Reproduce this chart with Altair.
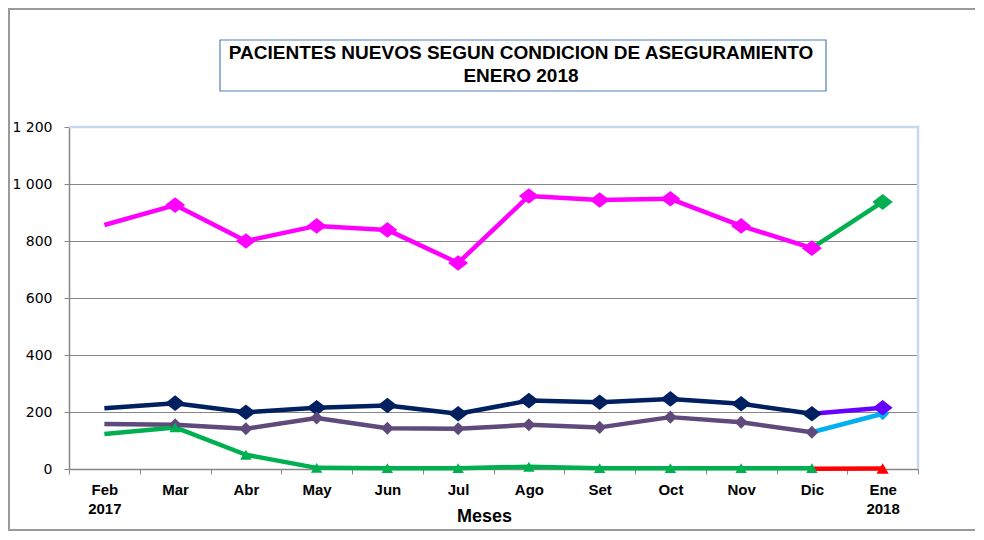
import altair as alt
import pandas as pd

months = ["Feb\n2017", "Mar", "Abr", "May", "Jun", "Jul", "Ago", "Set", "Oct", "Nov", "Dic", "Ene\n2018"]

magenta = [856, 926, 800, 853, 839, 723, 958, 944, 948, 853, 775]
navy = [213, 231, 199, 215, 223, 194, 240, 234, 246, 229, 194]
purple = [158, 155, 141, 179, 143, 141, 155, 146, 182, 164, 129]
green = [123, 146, 50, 4, 3, 3, 8, 3, 3, 3, 3]

# Dic -> Ene continuations
green_ene = [775, 937]
violet_ene = [194, 215]
cyan_ene = [129, 194]
red_ene = [1, 2]

DIAM = "M-1,0L0,-0.78L1,0L0,0.78Z"
TRI = "triangle-up"

series = [
    ("magenta", magenta, 0, "#FF00FF", DIAM, 400),
    ("navy", navy, 0, "#002060", DIAM, 400),
    ("purple", purple, 0, "#604A7B", "diamond", 170),
    ("green", green, 0, "#00B050", TRI, 130),
    ("green_ene", green_ene, 10, "#00B050", DIAM, 420),
    ("cyan_ene", cyan_ene, 10, "#00B0F0", "diamond", 170),
    ("violet_ene", violet_ene, 10, "#6600FF", DIAM, 400),
    ("red_ene", red_ene, 10, "#FF0000", TRI, 150),
]

rows = []
for name, vals, start, color, shape, size in series:
    for j, v in enumerate(vals):
        rows.append({
            "seg": name, "idx": start + j, "month": months[start + j],
            "value": v, "color": color, "shape": shape, "size": size,
            "marker": j > 0,
        })
df = pd.DataFrame(rows)

W, H = 849, 342
FONT = "Liberation Sans"

xenc = alt.X(
    "month:N", sort=months,
    scale=alt.Scale(type="band", paddingInner=0, paddingOuter=0),
    axis=alt.Axis(
        title="Meses", labelExpr="datum.value ? split(datum.value, '\\n') : ''", labelAngle=0,
        tickBand="extent", tickSize=5, tickColor="#868686", domainColor="#868686",
        domainWidth=1.5, labelFont=FONT, labelFontWeight="bold", labelFontSize=15,
        labelColor="#000000", labelPadding=8, labelLineHeight=19,
        titleFont=FONT, titleFontSize=18, titleFontWeight="bold", titleColor="#000000",
        titleX=415, titleY=47, titleBaseline="middle", grid=False,
    ),
)
yenc = alt.Y(
    "value:Q",
    scale=alt.Scale(domain=[0, 1200], nice=False),
    axis=alt.Axis(
        title=None, values=[0, 200, 400, 600, 800, 1000, 1200],
        labelExpr="replace(format(datum.value, ','), ',', ' ')",
        tickSize=5, tickColor="#868686", domainColor="#868686", domainWidth=1.5,
        gridColor="#868686", gridWidth=1, labelFont="DejaVu Sans", labelFontSize=14,
        labelColor="#000000", labelPadding=12,
    ),
)

base = alt.Chart(df)
lines = base.mark_line(strokeWidth=4.5, strokeJoin="round").encode(
    x=xenc, y=yenc,
    color=alt.Color("color:N", scale=None),
    detail="seg:N",
    order="idx:Q",
)
points = base.transform_filter("datum.marker").mark_point(filled=True, opacity=1, strokeWidth=0).encode(
    x=alt.X("month:N", sort=months), y="value:Q",
    color=alt.Color("color:N", scale=None),
    shape=alt.Shape("shape:N", scale=None),
    size=alt.Size("size:Q", scale=None),
)

one = alt.Chart(pd.DataFrame({"a": [0]}))


def hbar(x1, x2, y, t, color):
    return one.mark_rect(color=color, strokeWidth=0).encode(
        x=alt.value(x1), x2=alt.value(x2), y=alt.value(y - t / 2), y2=alt.value(y + t / 2))


def vbar(x, y1, y2, t, color):
    return one.mark_rect(color=color, strokeWidth=0).encode(
        x=alt.value(x - t / 2), x2=alt.value(x + t / 2), y=alt.value(y1), y2=alt.value(y2))


BLUE = "#C6D9F1"
top_border = hbar(0, W + 1.25, 0, 2.5, BLUE)
right_border = vbar(W, -1.25, H, 2.5, BLUE)

title_box = one.mark_rect(fill="white", stroke="#4F81BD", strokeWidth=1.2).encode(
    x=alt.value(151), x2=alt.value(757), y=alt.value(-87), y2=alt.value(-36))
title1 = one.mark_text(font=FONT, fontSize=19, fontWeight="bold", color="#000000",
                       align="center", baseline="middle").encode(
    x=alt.value(452), y=alt.value(-74), text=alt.value("PACIENTES NUEVOS SEGUN CONDICION DE ASEGURAMIENTO"))
title2 = one.mark_text(font=FONT, fontSize=19, fontWeight="bold", color="#000000",
                       align="center", baseline="middle").encode(
    x=alt.value(452), y=alt.value(-51), text=alt.value("ENERO 2018"))

GREY = "#9A9A9A"
outer_left = vbar(-60, -119, 404, 2, GREY)
outer_top = hbar(-61, 906, -118, 2, GREY)
outer_bottom = hbar(-61, 906, 403, 2, GREY)
right_mask = one.mark_rect(color="white", strokeWidth=0).encode(
    x=alt.value(897), x2=alt.value(912), y=alt.value(-117), y2=alt.value(402))

chart = alt.layer(
    outer_left, outer_top, outer_bottom, lines, points, top_border, right_border,
    title_box, title1, title2, right_mask,
).properties(
    width=W, height=H,
    autosize=alt.AutoSizeParams(type="none"),
    padding={"left": 61, "top": 119, "right": 58, "bottom": 63},
).configure_view(stroke=None)

chart.save("out.html", embed_options={"renderer": "svg", "actions": False})
